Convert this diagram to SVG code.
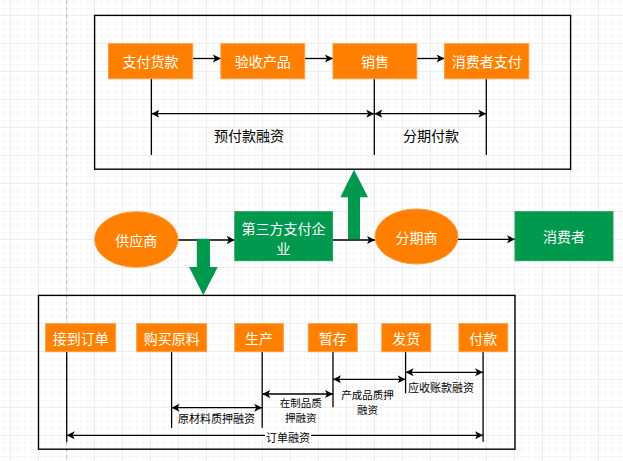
<svg xmlns="http://www.w3.org/2000/svg" width="623" height="461" viewBox="0 0 623 461">
<defs>
<pattern id="minor" x="10" y="15" width="7" height="7" patternUnits="userSpaceOnUse">
<path d="M0 0H7M0 0V7" fill="none" stroke="#f2f2f2" stroke-width="1"/>
</pattern>
<pattern id="major" x="10" y="15" width="28" height="28" patternUnits="userSpaceOnUse">
<path d="M0 0H28M0 0V28" fill="none" stroke="#e3e3e3" stroke-width="1"/>
</pattern>
<marker id="arr" markerUnits="userSpaceOnUse" markerWidth="10" markerHeight="10" refX="8" refY="4" orient="auto-start-reverse" viewBox="0 0 10 8">
<path d="M0,0 L8,4 L0,8 L2,4 z" fill="#000"/>
</marker>
</defs>
<style>
.frame{fill:none;stroke:#000;stroke-width:1.4}
.org{fill:#ff8000;stroke:#ff9a3c;stroke-width:1}
.grn{fill:#00994d;stroke:#1aa35c;stroke-width:1}
.wt{fill:#fff;font-family:"Noto Sans CJK SC","Noto Sans",sans-serif;font-size:14px;text-anchor:middle;dominant-baseline:central}
.lb{fill:#000;font-family:"Noto Sans CJK SC","Noto Sans",sans-serif;font-size:14px;text-anchor:middle;dominant-baseline:central}
.sl{fill:#000;font-family:"Noto Sans CJK SC","Noto Sans",sans-serif;font-size:11px;text-anchor:middle;dominant-baseline:central}
.ml{fill:#000;font-family:"Noto Sans CJK SC","Noto Sans",sans-serif;font-size:10.5px;text-anchor:middle;dominant-baseline:central}
.ln{fill:none;stroke:#000;stroke-width:1.3}
.ar{fill:none;stroke:#000;stroke-width:1.3;marker-end:url(#arr)}
.da{fill:none;stroke:#000;stroke-width:1.3;marker-start:url(#arr);marker-end:url(#arr)}
</style>
<rect width="623" height="461" fill="#fff"/>
<rect width="623" height="461" fill="url(#minor)"/>
<rect width="623" height="461" fill="url(#major)"/>
<line x1="66.7" y1="0" x2="66.7" y2="461" stroke="#bdbdbd" stroke-width="1" stroke-dasharray="4 3"/>

<g id="top-frame"><rect class="frame" x="94.6" y="15.4" width="476" height="153.8"/></g>
<g id="bottom-frame"><rect class="frame" x="38.5" y="295.4" width="476.5" height="153.8"/></g>

<g id="connectors">
<path class="ar" d="M192.7 58.5H220.9"/>
<path class="ar" d="M304.7 58.5H333"/>
<path class="ar" d="M416.8 58.5H444.6"/>
<path class="ln" d="M151.4 79V155M374.3 79V155M486.3 79V155"/>
<path class="da" d="M151.4 113.7H374.3"/>
<path class="da" d="M374.3 113.7H486.3"/>
<path class="ar" d="M178 240H234.8"/>
<path class="ar" d="M332.5 240H375"/>
<path class="ar" d="M458 239.3H515"/>
<path class="ln" d="M66.7 352V441.7M171.6 352V427.7M262.2 352V427.7M333 352V407.3M405.6 352V393.3M483.1 352V441.7"/>
<path class="da" d="M171.6 407.7H262.2"/>
<path class="da" d="M262.2 394H333"/>
<path class="da" d="M333 379.3H405.6"/>
<path class="da" d="M405.6 372.3H483.1"/>
<path class="da" d="M66.7 435.3H483.1"/>
</g>

<g id="arrow-up"><path d="M348 239V197.3H340.3L354 169.7L368 197.3H360V239Z" fill="#00994d"/></g>
<g id="arrow-down"><path d="M196.8 238.7H210V267H217.7L203.3 295.3L189 267H196.8Z" fill="#00994d"/></g>

<g id="n-pay"><rect class="org" x="108.5" y="43.7" width="84.2" height="35"/><text class="wt" x="150.6" y="61.2">支付货款</text></g>
<g id="n-check"><rect class="org" x="220.9" y="43.7" width="83.8" height="35"/><text class="wt" x="262.8" y="61.2">验收产品</text></g>
<g id="n-sale"><rect class="org" x="333" y="43.7" width="83.8" height="35"/><text class="wt" x="374.9" y="61.2">销售</text></g>
<g id="n-cpay"><rect class="org" x="444.6" y="43.7" width="84.2" height="35"/><text class="wt" x="486.7" y="61.2">消费者支付</text></g>
<g id="l-prepay"><text class="lb" x="249" y="135">预付款融资</text></g>
<g id="l-install"><text class="lb" x="431" y="135">分期付款</text></g>

<g id="n-supplier"><ellipse cx="136.3" cy="239.5" rx="41.7" ry="27.8" fill="#ff8000" stroke="#ff9a3c"/><text class="wt" x="136.3" y="239.5">供应商</text></g>
<g id="n-third"><rect class="grn" x="234.8" y="211.7" width="97.7" height="49"/><text class="wt" x="283.6" y="228.2">第三方支付企</text><text class="wt" x="283.6" y="248">业</text></g>
<g id="n-instal"><ellipse cx="416.5" cy="236.5" rx="41.5" ry="27.5" fill="#ff8000" stroke="#ff9a3c"/><text class="wt" x="416.5" y="236.5">分期商</text></g>
<g id="n-consumer"><rect class="grn" x="515" y="211.7" width="98" height="49"/><text class="wt" x="564" y="236.2">消费者</text></g>

<g id="n-order"><rect class="org" x="45.7" y="323.7" width="69.9" height="28"/><text class="wt" x="80.65" y="337.7">接到订单</text></g>
<g id="n-buy"><rect class="org" x="136.7" y="323.7" width="69.9" height="28"/><text class="wt" x="171.65" y="337.7">购买原料</text></g>
<g id="n-prod"><rect class="org" x="234.8" y="323.7" width="48.5" height="28"/><text class="wt" x="259.05" y="337.7">生产</text></g>
<g id="n-store"><rect class="org" x="308.3" y="323.7" width="48.9" height="28"/><text class="wt" x="332.75" y="337.7">暂存</text></g>
<g id="n-ship"><rect class="org" x="381.8" y="323.7" width="48.9" height="28"/><text class="wt" x="406.25" y="337.7">发货</text></g>
<g id="n-paid"><rect class="org" x="458.9" y="323.7" width="48.8" height="28"/><text class="wt" x="483.3" y="337.7">付款</text></g>

<g id="l-raw"><text class="sl" x="216.5" y="418.3">原材料质押融资</text></g>
<g id="l-wip"><text class="ml" x="300.8" y="402">在制品质</text><text class="ml" x="300.8" y="417">押融资</text></g>
<g id="l-fin"><text class="ml" x="367.5" y="394.6">产成品质押</text><text class="ml" x="367.5" y="409.6">融资</text></g>
<g id="l-ar"><text class="sl" x="441" y="387.3">应收账款融资</text></g>
<g id="l-orderfin"><rect x="265" y="429.5" width="46" height="13" fill="#fff"/><text class="sl" x="288" y="436.5">订单融资</text></g>
</svg>
